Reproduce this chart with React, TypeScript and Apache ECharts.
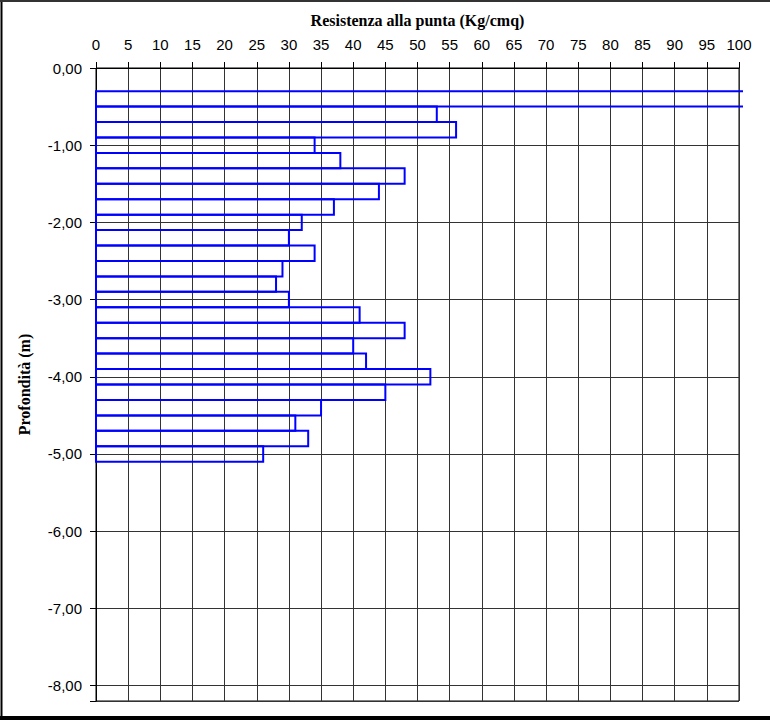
import React, { useEffect, useRef } from "react";
import * as echarts from "echarts";

// Depth intervals (m) and cone resistance (Kg/cmq)
const depthTop = [0.3, 0.5, 0.7, 0.9, 1.1, 1.3, 1.5, 1.7, 1.9, 2.1, 2.3, 2.5, 2.7, 2.9, 3.1, 3.3, 3.5, 3.7, 3.9, 4.1, 4.3, 4.5, 4.7, 4.9];
const depthBottom = [0.5, 0.7, 0.9, 1.1, 1.3, 1.5, 1.7, 1.9, 2.1, 2.3, 2.5, 2.7, 2.9, 3.1, 3.3, 3.5, 3.7, 3.9, 4.1, 4.3, 4.5, 4.7, 4.9, 5.1];
const resistance = [110, 53, 56, 34, 38, 48, 44, 37, 32, 30, 34, 29, 28, 30, 41, 48, 40, 42, 52, 45, 35, 31, 33, 26];

const xTitle = "Resistenza alla punta (Kg/cmq)";
const yTitle = "Profondità (m)";

export default function App() {
  const ref = useRef<HTMLDivElement>(null);

  useEffect(() => {
    if (!ref.current) return;
    const chart = echarts.init(ref.current, null, { renderer: "svg" });
    const data = resistance.map((v, i) => [v, depthTop[i], depthBottom[i]]);
    const blue = "#0000ff";

    chart.setOption({
      animation: false,
      backgroundColor: "#ffffff",
      grid: {
        left: 96,
        right: 31,
        top: 68,
        bottom: 19,
        show: true,
        borderColor: "#000",
        borderWidth: 1,
        outerBoundsMode: "none",
      },
      xAxis: {
        type: "value",
        position: "top",
        min: 0,
        max: 100,
        interval: 5,
        name: xTitle,
        nameLocation: "middle",
        nameGap: 40,
        nameTextStyle: {
          fontFamily: "Liberation Serif",
          fontWeight: "bold",
          fontSize: 16,
          color: "#000",
        },
        axisLine: { show: true, lineStyle: { color: "#000", width: 1 } },
        axisTick: { show: true, length: 6, lineStyle: { color: "#000" } },
        axisLabel: {
          margin: 16,
          fontFamily: "Liberation Sans",
          fontSize: 15,
          color: "#000",
        },
        splitLine: { show: true, lineStyle: { color: "#333", width: 1 } },
      },
      yAxis: {
        type: "value",
        inverse: true,
        min: 0,
        max: 8.2,
        interval: 1,
        name: yTitle,
        nameLocation: "middle",
        nameGap: 64,
        nameRotate: 90,
        nameTextStyle: {
          fontFamily: "Liberation Serif",
          fontWeight: "bold",
          fontSize: 16,
          color: "#000",
        },
        axisLine: { show: true, lineStyle: { color: "#000", width: 1 } },
        axisTick: { show: true, length: 6, lineStyle: { color: "#000" } },
        axisLabel: {
          margin: 14,
          fontFamily: "Liberation Sans",
          fontSize: 15,
          color: "#000",
          formatter: (v: number) => {
            if (Math.abs(v - Math.round(v)) > 1e-6) return "";
            if (v === 0) return "0,00";
            return "-" + v.toFixed(2).replace(".", ",");
          },
        },
        splitLine: { show: true, lineStyle: { color: "#333", width: 1 } },
      },
      series: [
        {
          type: "custom",
          data,
          encode: { x: 0, y: [1, 2] },
          renderItem: (params: any, api: any) => {
            const v = api.value(0);
            const t = api.value(1);
            const b = api.value(2);
            const cs = params.coordSys;
            const p0 = api.coord([0, t]);
            const p1 = api.coord([v, b]);
            const right = cs.x + cs.width;
            const style = { fill: "none", stroke: blue, lineWidth: 2 };
            if (p1[0] > right) {
              const xr = right + 4;
              return {
                type: "polyline",
                shape: {
                  points: [
                    [xr, p0[1]],
                    [p0[0], p0[1]],
                    [p0[0], p1[1]],
                    [xr, p1[1]],
                  ],
                },
                style,
              };
            }
            return {
              type: "rect",
              shape: {
                x: p0[0],
                y: p0[1],
                width: p1[0] - p0[0],
                height: p1[1] - p0[1],
              },
              style,
            };
          },
        },
      ],
      graphic: [
        {
          type: "line",
          shape: { x1: 1.5, y1: 0, x2: 1.5, y2: 718 },
          style: { stroke: "#000", lineWidth: 2 },
        },
        {
          type: "line",
          shape: { x1: 0, y1: 1, x2: 770, y2: 1 },
          style: { stroke: "#333", lineWidth: 2 },
        },
        {
          type: "line",
          shape: { x1: 0, y1: 718, x2: 770, y2: 718 },
          style: { stroke: "#000", lineWidth: 4 },
        },
      ],
    });

    return () => chart.dispose();
  }, []);

  return (
    <div
      ref={ref}
      style={{ position: "absolute", left: 0, top: 0, width: 770, height: 720 }}
    />
  );
}
